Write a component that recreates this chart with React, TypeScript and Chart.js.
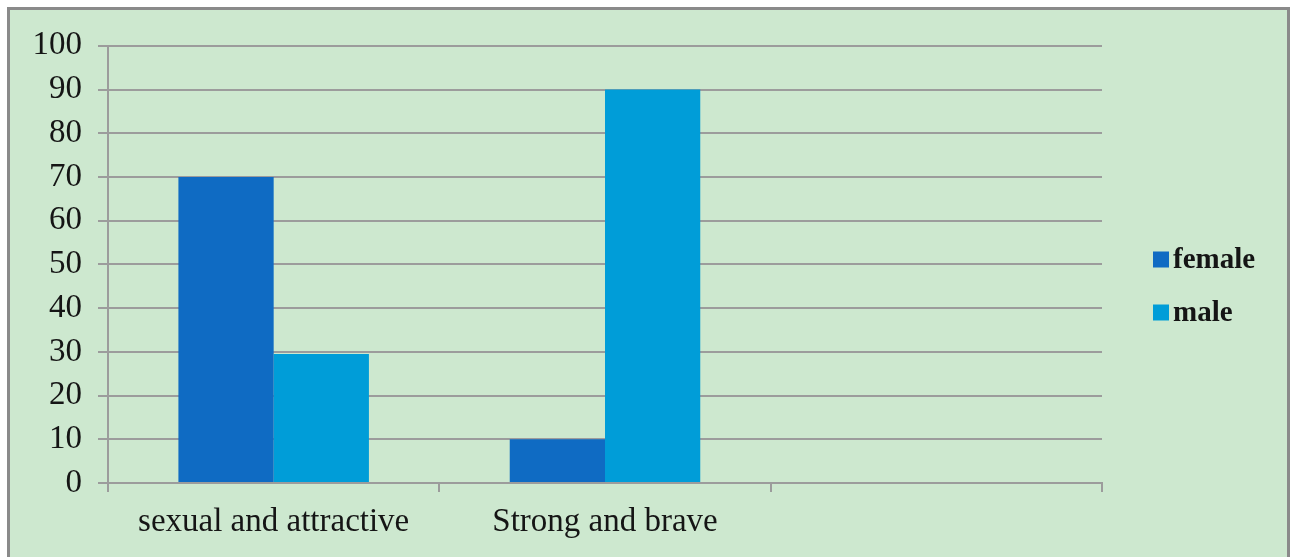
import React, { useEffect, useRef } from 'react';
import { Chart, registerables } from 'chart.js';

Chart.register(...registerables);

const categories = ['sexual and attractive', 'Strong and brave', ''];
const femaleValues = [70, 10, null];
const maleValues = [29.5, 90, null];
const seriesNames = ['female', 'male'];
const seriesColors = ['#0f6bc3', '#009dd8'];
const yMin = 0;
const yMax = 100;
const yStep = 10;

const FONT = '"Liberation Serif", "Times New Roman", serif';
const GRID = '#9c9c9c';

const sideLegend = {
  id: 'sideLegend',
  afterDraw(chart: any) {
    const ctx = chart.ctx;
    const x = chart.chartArea.right + 51;
    const cy = chart.height / 2 - 1;
    const gap = 53;
    const n = chart.data.datasets.length;
    ctx.save();
    chart.data.datasets.forEach((ds: any, i: number) => {
      const y = cy + (i - (n - 1) / 2) * gap;
      ctx.fillStyle = ds.backgroundColor;
      ctx.fillRect(x, y - 8, 16, 16);
      ctx.fillStyle = '#151515';
      ctx.font = `bold 29px ${FONT}`;
      ctx.textBaseline = 'middle';
      ctx.textAlign = 'left';
      ctx.fillText(ds.label, x + 20, y + 1);
    });
    ctx.restore();
  },
};

export default function App() {
  const canvasRef = useRef<HTMLCanvasElement | null>(null);

  useEffect(() => {
    if (!canvasRef.current) return;
    const chart = new Chart(canvasRef.current, {
      type: 'bar',
      data: {
        labels: categories,
        datasets: [
          { label: seriesNames[0], data: femaleValues, backgroundColor: seriesColors[0], borderWidth: 0 },
          { label: seriesNames[1], data: maleValues, backgroundColor: seriesColors[1], borderWidth: 0 },
        ],
      },
      options: {
        responsive: false,
        animation: false,
        devicePixelRatio: 1,
        layout: { padding: { left: 0, right: 185, top: 35, bottom: 0 } },
        datasets: { bar: { barPercentage: 1, categoryPercentage: 0.575 } },
        plugins: {
          legend: { display: false },
          tooltip: { enabled: false },
        },
        scales: {
          x: {
            grid: {
              offset: true,
              drawOnChartArea: false,
              drawTicks: true,
              tickLength: 9,
              color: GRID,
              lineWidth: 2,
            },
            border: { display: true, color: GRID, width: 2 },
            ticks: {
              color: '#151515',
              font: { family: FONT, size: 33 },
              padding: 11,
              maxRotation: 0,
              autoSkip: false,
            },
            afterFit(scale: any) {
              scale.height = 81;
            },
          },
          y: {
            min: yMin,
            max: yMax,
            grid: {
              color: GRID,
              lineWidth: 2,
              tickLength: 10,
              drawTicks: true,
            },
            border: { display: true, color: GRID, width: 2 },
            ticks: {
              stepSize: yStep,
              color: '#151515',
              font: { family: FONT, size: 33 },
              padding: 16,
            },
            afterFit(scale: any) {
              scale.width = 98;
            },
          },
        },
      },
      plugins: [sideLegend],
    });
    return () => chart.destroy();
  }, []);

  return (
    <div
      style={{
        position: 'fixed',
        left: 7,
        top: 7,
        width: 1283,
        height: 560,
        boxSizing: 'border-box',
        border: '3px solid #8a8a8a',
        background: '#cde8cf',
      }}
    >
      <canvas ref={canvasRef} width={1277} height={554} style={{ display: 'block' }} />
    </div>
  );
}
